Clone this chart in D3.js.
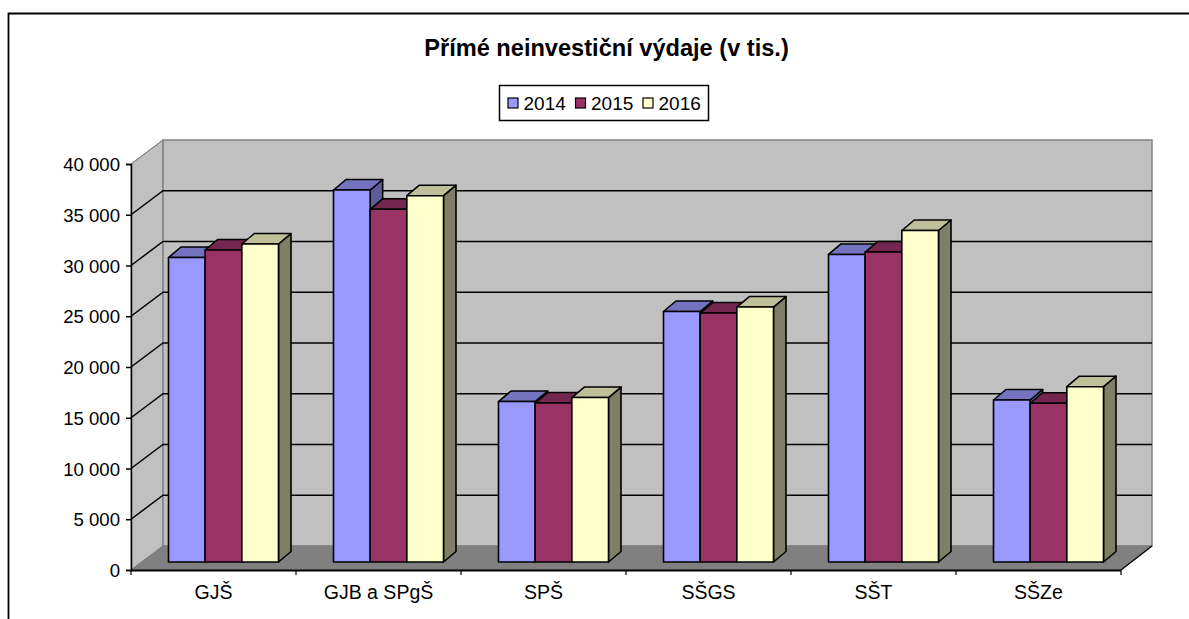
<!DOCTYPE html>
<html><head><meta charset="utf-8">
<script src="https://cdn.jsdelivr.net/npm/d3@7"></script>
<style>html,body{margin:0;padding:0;background:#fff}svg{display:block}text{font-family:"Liberation Sans",Arial,sans-serif;fill:#000}</style>
</head><body><div id="c"></div>
<script>
const categories=["GJŠ","GJB a SPgŠ","SPŠ","SŠGS","SŠT","SŠZe"];
const seriesNames=["2014","2015","2016"];
const v2014=[30000,36650,15810,24680,30300,15960];
const v2015=[30740,34750,15660,24530,30540,15640];
const v2016=[31330,36090,16200,25120,32660,17270];
const allValues=[v2014,v2015,v2016];
const fronts=["#9999ff","#993366","#ffffcc"];
const tops=["#7373bf","#732650","#bfbf99"];
const sides=["#5c5c99","#5c1f3d","#7f7f66"];
const yTicks=d3.range(0,40001,5000);
const W=1189,H=619,L=131,R=1121,B=570,T=164,dx=32,dy=24,bdx=12.5,bdy=10.5,baseLift=8;
const svg=d3.select("#c").append("svg").attr("width",W).attr("height",H);
svg.append("path").attr("d",`M8.5,${H}V13.5H${W}`).attr("fill","none").attr("stroke","#000").attr("stroke-width",1.8);
svg.append("text").attr("x",606.5).attr("y",55.5).attr("text-anchor","middle").attr("font-size",23.6).attr("font-weight","bold").text("Přímé neinvestiční výdaje (v tis.)");
const y=d3.scaleLinear().domain([0,40000]).range([B,T]);
const x0=d3.scaleBand().domain(categories).range([L,R]);
const x1=d3.scaleBand().domain(seriesNames).range([37.5,147.5]);
// walls
svg.append("path").attr("d",`M${L},${B}L${L+dx},${B-dy}V${T-dy}L${L},${T}Z`).attr("fill","#c0c0c0").attr("stroke","#808080");
svg.append("rect").attr("x",L+dx).attr("y",T-dy).attr("width",R-L-1).attr("height",B-T).attr("fill","#c0c0c0").attr("stroke","#808080").attr("stroke-width",1.5);
svg.append("path").attr("d",`M${L},${B}L${L+dx},${B-dy}H${R+dx-1}L${R},${B}Z`).attr("fill","#808080").attr("stroke","#808080");
// gridlines
svg.selectAll(".g").data(yTicks.slice(1,-1)).join("path").attr("fill","none").attr("stroke","#000").attr("stroke-width",1.5)
 .attr("d",d=>`M${L},${y(d)}L${L+dx},${y(d)-dy}H${R+dx-1}`);
svg.append("path").attr("d",`M${L},${y(0)}L${L+dx},${y(0)-dy}`).attr("stroke","#808080").attr("fill","none");
svg.append("path").attr("d",`M${L},${y(40000)}L${L+dx},${y(40000)-dy}`).attr("stroke","#808080").attr("fill","none");
// bars
const base=B-baseLift;
const bars=svg.append("g").attr("stroke","#000").attr("stroke-width",1.6).attr("stroke-linejoin","round");
categories.forEach((c,ci)=>{
 seriesNames.forEach((s,si)=>{
  const v=allValues[si][ci];
  const xa=x0(c)+x1(s),w=x1.bandwidth(),h=y(0)-y(v),t=base-h;
  const g=bars.append("g").datum(v);
  g.append("path").attr("fill",sides[si]).attr("d",`M${xa+w},${t}l${bdx},${-bdy}V${base-bdy}L${xa+w},${base}Z`);
  g.append("path").attr("fill",tops[si]).attr("d",`M${xa},${t}l${bdx},${-bdy}h${w}l${-bdx},${bdy}Z`);
  g.append("rect").attr("fill",fronts[si]).attr("x",xa).attr("y",t).attr("width",w).attr("height",h);
 });
});
// axes
const ya=d3.axisLeft(y).tickValues(yTicks).tickSize(5).tickFormat(d=>d3.format(",")(d).replace(/,/g," "));
const ga=svg.append("g").attr("transform",`translate(${L},0)`).call(ya);
ga.selectAll("path,line").attr("stroke","#000").attr("stroke-width",1.5);
ga.selectAll("text").attr("font-size",18.6).attr("x",-11).attr("dy","0.36em");
const xa=d3.axisBottom(x0).tickSize(0);
const gx=svg.append("g").attr("transform",`translate(0,${B})`).call(xa);
gx.select("path").attr("d",`M${L},0.5H${R}`).attr("stroke","#000").attr("stroke-width",2);
gx.selectAll("text").attr("font-size",19.5).attr("y",22).attr("dy","0.36em");
svg.selectAll(".xt").data(d3.range(0,7)).join("line").attr("x1",i=>L+i*x0.step()).attr("x2",i=>L+i*x0.step()).attr("y1",B).attr("y2",B+5).attr("stroke","#000").attr("stroke-width",1.2);
svg.append("path").attr("d",`M${R},${B}L${R+dx-1},${B-dy}`).attr("stroke","#000").attr("fill","none").attr("stroke-width",1.2);
// legend
const lg=svg.append("g");
lg.append("rect").attr("x",499.5).attr("y",85.5).attr("width",209).attr("height",35).attr("fill","#fff").attr("stroke","#000").attr("stroke-width",1.5);
const lx=d3.scalePoint().domain(seriesNames).range([507,642]);
seriesNames.forEach((s,i)=>{
 lg.append("rect").attr("x",lx(s)+1).attr("y",98).attr("width",10).attr("height",10).attr("fill",fronts[i]).attr("stroke","#000").attr("stroke-width",1.2);
 lg.append("text").attr("x",lx(s)+16.5).attr("y",103.5).attr("dy","0.36em").attr("font-size",19).text(s);
});
</script></body></html>
